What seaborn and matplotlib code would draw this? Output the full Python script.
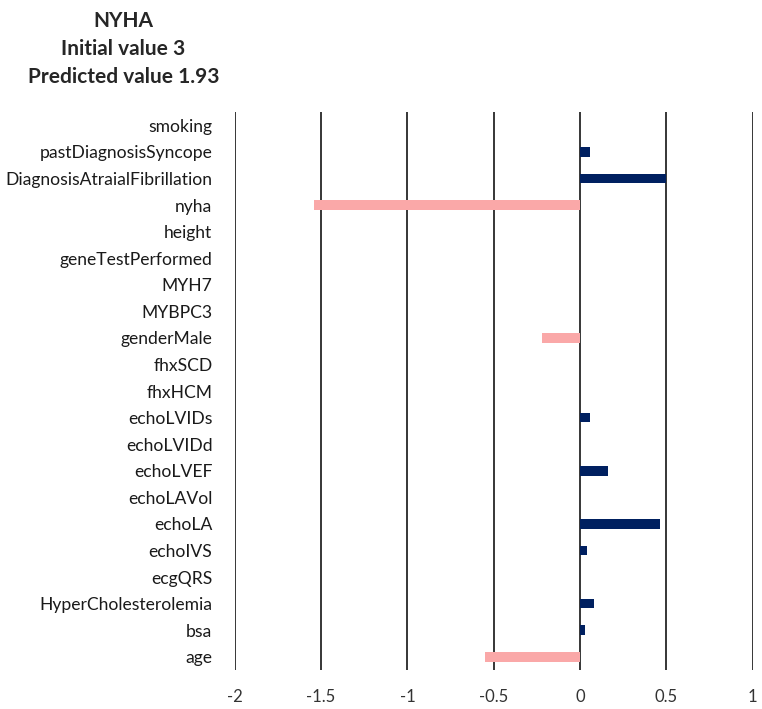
import numpy as np
import pandas as pd
import matplotlib
matplotlib.use('Agg')
import matplotlib.pyplot as plt
import seaborn as sns

features = ['smoking', 'pastDiagnosisSyncope', 'DiagnosisAtraialFibrillation', 'nyha',
            'height', 'geneTestPerformed', 'MYH7', 'MYBPC3', 'genderMale', 'fhxSCD',
            'fhxHCM', 'echoLVIDs', 'echoLVIDd', 'echoLVEF', 'echoLAVol', 'echoLA',
            'echoIVS', 'ecgQRS', 'HyperCholesterolemia', 'bsa', 'age']
contributions = [0.0, 0.06, 0.50, -1.54, 0.0, 0.0, 0.0, 0.0, -0.22, 0.0,
                 0.0, 0.06, 0.0, 0.16, 0.0, 0.46, 0.04, 0.0, 0.08, 0.03, -0.55]
x_ticks = [-2, -1.5, -1, -0.5, 0, 0.5, 1]
x_tick_labels = ['-2', '-1.5', '-1', '-0.5', '0', '0.5', '1']

df = pd.DataFrame({'feature': features, 'value': contributions})
df['sign'] = np.where(df['value'] < 0, 'neg', 'pos')

sns.set_style('white')
plt.rcParams['font.family'] = ['Lato', 'DejaVu Sans']

fig = plt.figure(figsize=(7.62, 7.09), dpi=100)
ax = fig.add_axes([0.308, 0.055, 0.68, 0.787])

sns.barplot(data=df, x='value', y='feature', hue='sign', orient='h',
            palette={'pos': '#002060', 'neg': '#FAA8A8'}, dodge=False,
            saturation=1, linewidth=0, width=0.36, legend=False, ax=ax, zorder=3)

ax.set_xlim(-2, 1)
ax.set_xticks(x_ticks)
ax.set_xticklabels(x_tick_labels, fontsize=12, color='#333333')
for xv in x_ticks:
    ax.axvline(xv, color='black', lw=1.1, zorder=2)
ax.set_xlabel('')
ax.set_ylabel('')
ax.tick_params(axis='y', labelsize=12.6, pad=16, length=0, colors='#1a1a1a')
ax.tick_params(axis='x', length=0, pad=14)
for s in ax.spines.values():
    s.set_visible(False)

fig.text(0.162, 0.985, 'NYHA\nInitial value 3\nPredicted value 1.93',
         ha='center', va='top', fontsize=15, fontweight='bold', linespacing=1.5)

fig.savefig('out.png', dpi=100)
